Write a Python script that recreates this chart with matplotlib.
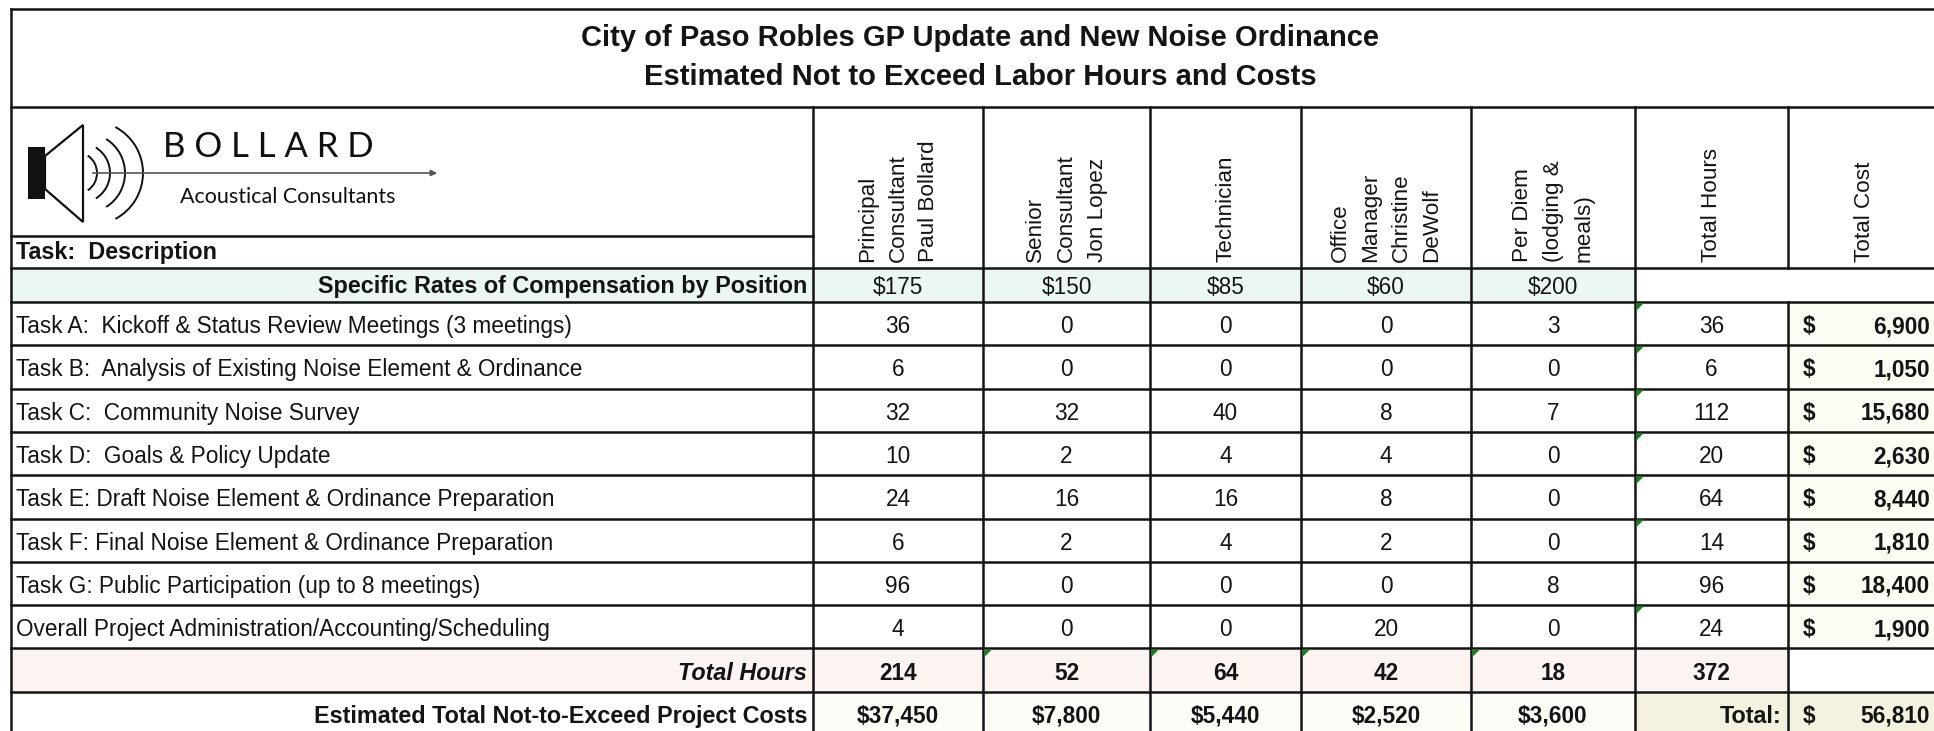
import matplotlib
matplotlib.use("Agg")
import matplotlib.pyplot as plt
from matplotlib.patches import Rectangle, Polygon, Arc

# ---------------- data ----------------
title_lines = ["City of Paso Robles GP Update and New Noise Ordinance",
               "Estimated Not to Exceed Labor Hours and Costs"]
positions = ["Principal\nConsultant\nPaul Bollard",
             "Senior\nConsultant\nJon Lopez",
             "Technician",
             "Office\nManager\nChristine\nDeWolf",
             "Per Diem\n(lodging &\nmeals)"]
extra_headers = ["Total Hours", "Total Cost"]
rates = [175, 150, 85, 60, 200]
tasks = ["Task A:  Kickoff & Status Review Meetings (3 meetings)",
         "Task B:  Analysis of Existing Noise Element & Ordinance",
         "Task C:  Community Noise Survey",
         "Task D:  Goals & Policy Update",
         "Task E: Draft Noise Element & Ordinance Preparation",
         "Task F: Final Noise Element & Ordinance Preparation",
         "Task G: Public Participation (up to 8 meetings)",
         "Overall Project Administration/Accounting/Scheduling"]
principal = [36, 6, 32, 10, 24, 6, 96, 4]
senior = [0, 0, 32, 2, 16, 2, 0, 0]
technician = [0, 0, 40, 4, 16, 4, 0, 0]
office_mgr = [0, 0, 8, 4, 8, 2, 0, 20]
per_diem = [3, 0, 7, 0, 0, 0, 8, 0]
total_hours = [36, 6, 112, 20, 64, 14, 96, 24]
total_cost = [6900, 1050, 15680, 2630, 8440, 1810, 18400, 1900]
column_hours = [214, 52, 64, 42, 18]
grand_hours = 372
column_costs = [37450, 7800, 5440, 2520, 3600]
grand_cost = 56810
flag_rows_total_hours = [True, True, True, True, True, True, False, True]
flag_cols_sum_row = [False, True, True, True, True]

# ---------------- layout ----------------
W, H = 1934, 731
fig = plt.figure(figsize=(W / 100, H / 100), dpi=100)
ax = fig.add_axes([0, 0, 1, 1])
ax.set_xlim(0, W)
ax.set_ylim(H, 0)
ax.axis("off")

FONT = "Liberation Sans"
INK = "#141414"
LW = 1.8

xe = [11, 813, 983, 1150, 1301, 1471, 1635, 1788, 1942]
y_top, y_title, y_desc, y_head, y_rates = 9, 107, 236, 268, 302
row_h = 43.3
n_rows = len(tasks) + 2
ry = [y_rates + row_h * i for i in range(n_rows + 1)]

# fills
def fill(x0, x1, y0, y1, c):
    ax.add_patch(Rectangle((x0, y0), x1 - x0, y1 - y0, facecolor=c, edgecolor="none", zorder=0))

fill(xe[0], xe[6], y_head, y_rates, "#ecf7f4")
for i in range(len(tasks)):
    fill(xe[7], xe[8], ry[i], ry[i + 1], "#fcfbf4")
fill(xe[0], xe[7], ry[-3], ry[-2], "#fcf4f0")
fill(xe[1], xe[6], ry[-2], ry[-1], "#fdfdf7")
fill(xe[6], xe[8], ry[-2], ry[-1], "#f4f2df")

# lines
def hl(y, x0, x1):
    ax.plot([x0, x1], [y, y], color=INK, lw=LW, solid_capstyle="projecting", zorder=3)

def vl(x, y0, y1):
    ax.plot([x, x], [y0, y1], color=INK, lw=LW, solid_capstyle="projecting", zorder=3)

for y in [y_top, y_title, y_head] + ry:
    hl(y, xe[0], xe[-1])
hl(y_desc, xe[0], xe[1])
vl(xe[0], y_top, ry[-1])
vl(xe[-1], y_top, ry[-1])
for x in xe[1:7]:
    vl(x, y_title, ry[-1])
vl(xe[7], y_title, y_head)
vl(xe[7], y_rates, ry[-1])

# green error triangles
def tri(x, y):
    ax.add_patch(Polygon([(x + 1, y + 1), (x + 9, y + 1), (x + 1, y + 9)], closed=True,
                         facecolor="#1f7a24", edgecolor="none", zorder=4))

for i, f in enumerate(flag_rows_total_hours):
    if f:
        tri(xe[6], ry[i])
for j, f in enumerate(flag_cols_sum_row):
    if f:
        tri(xe[j + 1], ry[-3])

# title
ax.text(980, 38, title_lines[0], ha="center", va="center", fontsize=21,
        fontweight="bold", family=FONT, color=INK)
ax.text(980, 77, title_lines[1], ha="center", va="center", fontsize=21,
        fontweight="bold", family=FONT, color=INK)

# logo
ax.add_patch(Rectangle((28, 147), 17, 52, facecolor="#111", edgecolor="none", zorder=2))
ax.add_patch(Polygon([(45, 156), (83, 125), (83, 222), (45, 189)], closed=True,
                     facecolor="white", edgecolor="#111", lw=1.6, zorder=2))
for cx, r, ang in [(76, 21, 56), (80, 30, 58), (85, 40, 58), (91, 52, 62)]:
    ax.add_patch(Arc((cx, 173), 2 * r, 2 * r, theta1=-ang, theta2=ang, color="#111", lw=1.4, zorder=2))
ax.annotate("", xy=(440, 173), xytext=(90, 173),
            arrowprops=dict(arrowstyle="-|>", color="#555", lw=1.2, mutation_scale=9), zorder=2)
ax.text(163, 147, "B O L L A R D", ha="left", va="center", fontsize=25,
        family="Lato", color="#111")
ax.text(180, 197, "Acoustical Consultants", ha="left", va="center", fontsize=15.5,
        family="Lato", color="#111")
ax.text(16, 253, "Task:  Description", ha="left", va="center", fontsize=16.8,
        fontweight="bold", family=FONT, color=INK)

# column headers (rotated)
centers = [(xe[k] + xe[k + 1]) / 2 for k in range(len(xe) - 1)]
for k, lab in enumerate(positions + extra_headers):
    ax.text(centers[k + 1], 262, lab, rotation=90, ha="center", va="bottom",
            multialignment="left", fontsize=16.2, family=FONT, color=INK, linespacing=1.6)

# rates row
ymid = (y_head + y_rates) / 2 + 2
ax.text(807, ymid, "Specific Rates of Compensation by Position", ha="right", va="center",
        fontsize=16.8, fontweight="bold", family=FONT, color=INK)
for k, r in enumerate(rates):
    ax.text(centers[k + 1], ymid, f"${r}", ha="center", va="center",
            fontsize=16.3, family=FONT, color=INK)

# task rows
cols = [principal, senior, technician, office_mgr, per_diem, total_hours]
for i, t in enumerate(tasks):
    yc = (ry[i] + ry[i + 1]) / 2 + 3
    ax.text(16, yc, t, ha="left", va="center", fontsize=16.3, family=FONT, color=INK)
    for k, col in enumerate(cols):
        ax.text(centers[k + 1], yc, f"{col[i]}", ha="center", va="center",
                fontsize=16.3, family=FONT, color=INK)
    ax.text(1803, yc, "$", ha="left", va="center", fontsize=16.3, fontweight="bold",
            family=FONT, color=INK)
    ax.text(1930, yc, f"{total_cost[i]:,}", ha="right", va="center", fontsize=16.3,
            fontweight="bold", family=FONT, color=INK)

# total hours row
yc = (ry[-3] + ry[-2]) / 2 + 3
ax.text(807, yc, "Total Hours", ha="right", va="center", fontsize=16.8, fontweight="bold",
        style="italic", family=FONT, color=INK)
for k, v in enumerate(column_hours + [grand_hours]):
    ax.text(centers[k + 1], yc, f"{v}", ha="center", va="center", fontsize=16.3,
            fontweight="bold", family=FONT, color=INK)

# cost row
yc = (ry[-2] + ry[-1]) / 2 + 3
ax.text(807, yc, "Estimated Total Not-to-Exceed Project Costs", ha="right", va="center",
        fontsize=16.8, fontweight="bold", family=FONT, color=INK)
for k, v in enumerate(column_costs):
    ax.text(centers[k + 1], yc, f"${v:,}", ha="center", va="center", fontsize=16.3,
            fontweight="bold", family=FONT, color=INK)
ax.text(1782, yc, "Total:", ha="right", va="center", fontsize=16.8, fontweight="bold",
        family=FONT, color=INK)
ax.text(1803, yc, "$", ha="left", va="center", fontsize=16.3, fontweight="bold",
        family=FONT, color=INK)
ax.text(1930, yc, f"{grand_cost:,}", ha="right", va="center", fontsize=16.3,
        fontweight="bold", family=FONT, color=INK)

fig.savefig("out.png", dpi=100, facecolor="white")
